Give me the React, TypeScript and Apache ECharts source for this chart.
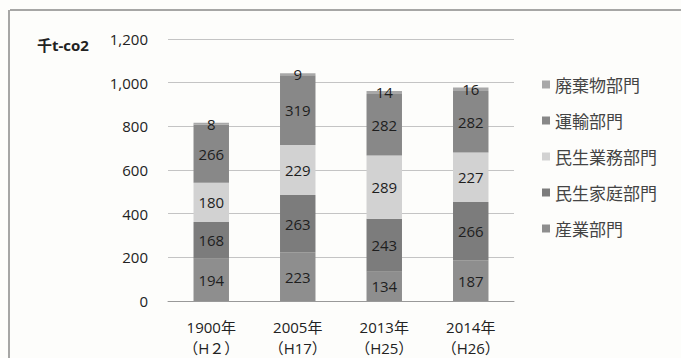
import React, { useEffect, useRef } from "react";
import * as echarts from "echarts";

const categories = ["1900年\n（H２）", "2005年\n（H17）", "2013年\n（H25）", "2014年\n（H26）"];
const industry = [194, 223, 134, 187];
const household = [168, 263, 243, 266];
const business = [180, 229, 289, 227];
const transport = [266, 319, 282, 282];
const waste = [8, 9, 14, 16];
const yTicks = [0, 200, 400, 600, 800, 1000, 1200];

const FONT = "'Open Sans', 'Noto Sans CJK JP', sans-serif";

export default function App() {
  const ref = useRef<HTMLDivElement>(null);
  useEffect(() => {
    if (!ref.current) return;
    const chart = echarts.init(ref.current, null, { renderer: "svg" });
    const mk = (name: string, data: number[], color: string, textColor = "#1e1e1e") => ({
      name,
      type: "bar",
      stack: "total",
      data,
      barWidth: "41%",
      itemStyle: { color },
      label: {
        show: true,
        position: "inside",
        color: textColor,
        fontSize: 15,
        fontFamily: FONT,
      },
    });
    chart.setOption({
      animation: false,
      backgroundColor: "#fdfdfb",
      textStyle: { fontFamily: FONT },
      grid: { left: 168, right: 167, top: 39, bottom: 57, containLabel: false, outerBoundsMode: "none" },
      legend: {
        orient: "vertical",
        left: 537,
        top: 71,
        itemWidth: 8,
        itemHeight: 8,
        itemGap: 19,
        icon: "rect",
        data: ["廃棄物部門", "運輸部門", "民生業務部門", "民生家庭部門", "産業部門"],
        textStyle: { fontSize: 17, color: "#444", fontFamily: "'Noto Sans CJK JP', sans-serif" },
      },
      xAxis: {
        type: "category",
        data: categories,
        axisTick: { show: false },
        axisLine: { lineStyle: { color: "#999" } },
        axisLabel: {
          color: "#222",
          fontSize: 15,
          margin: 15,
          lineHeight: 21,
          fontFamily: FONT,
        },
      },
      yAxis: {
        type: "value",
        min: yTicks[0],
        max: yTicks[yTicks.length - 1],
        interval: 200,
        axisLine: { show: false },
        axisTick: { show: false },
        splitLine: { lineStyle: { color: "#c4c4c4" } },
        axisLabel: {
          color: "#222",
          fontSize: 15,
          margin: 20,
          fontFamily: FONT,
          formatter: (v: number) => v.toLocaleString("en-US"),
        },
      },
      graphic: [
        { type: "line", shape: { x1: 10, y1: 10, x2: 681, y2: 10 }, style: { stroke: "#888", lineWidth: 1.5 } },
        { type: "line", shape: { x1: 9, y1: 10, x2: 9, y2: 358 }, style: { stroke: "#888", lineWidth: 1.5 } },
        {
          type: "text",
          left: 37,
          top: 37,
          style: { text: "千t-co2", fontSize: 15, fontWeight: "bold", fill: "#222", fontFamily: FONT },
        },
      ],
      series: [
        mk("産業部門", industry, "#8e8e8e"),
        mk("民生家庭部門", household, "#7c7c7c"),
        mk("民生業務部門", business, "#d2d2d2"),
        mk("運輸部門", transport, "#888888"),
        mk("廃棄物部門", waste, "#a8a8a8"),
      ],
    });
    return () => chart.dispose();
  }, []);
  return <div ref={ref} style={{ width: 681, height: 358, position: "absolute", left: 0, top: 0 }} />;
}
